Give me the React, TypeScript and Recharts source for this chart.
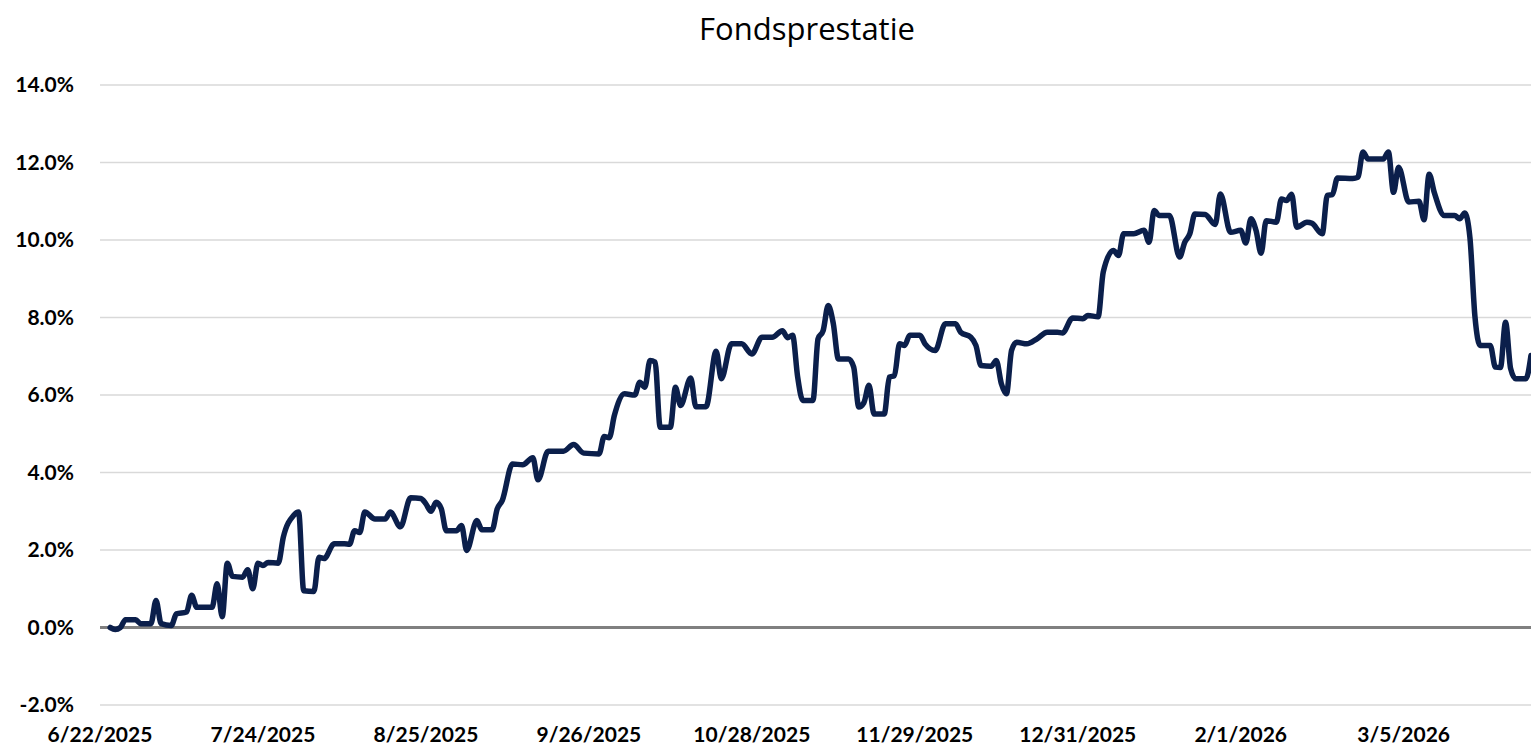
import { LineChart, Line, XAxis, YAxis, CartesianGrid, ReferenceLine } from 'recharts';

const START = Date.UTC(2025, 5, 22);
const DAY = 86400000;
const LAST_DAY = 281;

// dagen sinds 6/22/2025
const dayOffset = [
  2, 3, 4, 5, 7, 8, 10, 11, 12, 14, 15, 17, 18, 19, 22, 23, 24, 25, 26, 28, 29, 30, 31, 32, 33, 35, 36, 38, 39, 40, 42, 43, 44, 46, 48,
  49, 50, 51, 52, 54, 56, 57, 59, 61, 63, 64, 65, 66, 67, 68, 70, 71, 72, 74, 75, 77, 78, 79, 81, 83, 85, 86, 88, 91, 93, 95,
  98, 99, 100, 101, 103, 105, 106, 107, 108, 109, 110, 112, 113, 114, 116, 117, 119, 121, 122, 124, 126, 128, 130, 132, 134, 135, 136, 137, 138, 140,
  141, 142, 143, 144, 145, 147, 148, 149, 150, 151, 152, 154, 155, 156, 157, 158, 159, 161, 162, 164, 166, 168, 169, 171, 172, 173, 175, 176, 177, 178, 179, 180, 182, 184, 186, 188,
  189, 191, 193, 194, 196, 197, 199, 200, 201, 203, 205, 206, 207, 208, 210, 212, 213, 214, 215, 217, 219, 220, 222, 224, 225, 226, 227, 228, 229, 231, 232, 233, 234, 235,
  237, 238, 240, 241, 242, 243, 246, 247, 248, 249, 252, 253, 254, 255, 257, 259, 260, 261, 262, 264, 266, 267, 268, 269, 270, 271, 273, 274, 275, 276, 277, 278, 280, 281,
];

// rendement in %
const fundReturn = [
  0.0, -0.05, 0.0, 0.2, 0.2, 0.1, 0.1, 0.7, 0.1, 0.05, 0.35, 0.4, 0.83, 0.52, 0.52, 1.13, 0.28, 1.66, 1.32, 1.3, 1.49, 1.0, 1.66, 1.6, 1.68, 1.66, 2.33, 2.89, 2.98, 0.95, 0.93, 1.81, 1.78, 2.16, 2.16,
  2.15, 2.5, 2.45, 2.98, 2.8, 2.8, 2.98, 2.6, 3.35, 3.33, 3.19, 3.0, 3.23, 3.07, 2.5, 2.5, 2.63, 1.99, 2.76, 2.52, 2.52, 3.06, 3.28, 4.22, 4.2, 4.38, 3.81, 4.55, 4.55, 4.72, 4.5,
  4.48, 4.93, 4.9, 5.47, 6.03, 6.0, 6.33, 6.2, 6.89, 6.85, 5.17, 5.17, 6.2, 5.73, 6.44, 5.7, 5.7, 7.13, 6.42, 7.32, 7.32, 7.06, 7.49, 7.49, 7.66, 7.48, 7.54, 6.46, 5.86, 5.86,
  7.45, 7.66, 8.31, 7.84, 6.93, 6.93, 6.72, 5.69, 5.8, 6.25, 5.51, 5.51, 6.46, 6.5, 7.32, 7.28, 7.54, 7.54, 7.32, 7.15, 7.84, 7.84, 7.62, 7.49, 7.28, 6.76, 6.74, 6.89, 6.29, 6.03, 7.15, 7.36, 7.32, 7.45, 7.62, 7.62,
  7.6, 7.99, 7.97, 8.05, 8.02, 9.17, 9.73, 9.6, 10.16, 10.16, 10.25, 9.94, 10.76, 10.63, 10.63, 9.56, 9.94, 10.16, 10.67, 10.66, 10.4, 11.19, 10.2, 10.25, 9.92, 10.55, 10.25, 9.66, 10.5, 10.46, 11.06, 11.02, 11.18, 10.33,
  10.46, 10.43, 10.16, 11.15, 11.17, 11.6, 11.59, 11.62, 12.27, 12.09, 12.09, 12.27, 11.23, 11.88, 10.98, 11.0, 10.52, 11.7, 11.23, 10.63, 10.63, 10.55, 10.7, 10.07, 8.01, 7.28, 7.28, 6.72, 6.71, 7.88, 6.68, 6.42, 6.42, 7.02,
];

const tickLabels = ['6/22/2025', '7/24/2025', '8/25/2025', '9/26/2025', '10/28/2025', '11/29/2025', '12/31/2025', '2/1/2026', '3/5/2026'];
const yTicks = [-2, 0, 2, 4, 6, 8, 10, 12, 14];

const parseDate = (s: string) => {
  const [m, d, y] = s.split('/').map(Number);
  return Date.UTC(y, m - 1, d);
};

const fmtDate = (t: number) => {
  const d = new Date(t);
  return `${d.getUTCMonth() + 1}/${d.getUTCDate()}/${d.getUTCFullYear()}`;
};

const data = dayOffset.map((d, i) => ({ date: START + d * DAY, value: fundReturn[i] }));
const xTicks = tickLabels.map(parseDate);

const FONT = 'Lato, "Open Sans", sans-serif';

export default function App() {
  return (
    <div style={{ position: 'relative', width: 1531, height: 747, background: '#fff', overflow: 'hidden' }}>
      <style>{'body{margin:0;background:#fff}'}</style>
      <svg width={1531} height={60} style={{ position: 'absolute', left: 0, top: 0 }}>
        <text x={807} y={40} textAnchor="middle" fontFamily='"Open Sans", sans-serif' fontSize={31} fill="#000">
          Fondsprestatie
        </text>
      </svg>
      <LineChart width={1531} height={747} data={data} margin={{ top: 85, right: 0, bottom: 0, left: 0 }}>
        <CartesianGrid vertical={false} stroke="#d9d9d9" strokeWidth={1.5} />
        <XAxis
          dataKey="date"
          type="number"
          domain={[START, START + LAST_DAY * DAY]}
          ticks={xTicks}
          tickFormatter={fmtDate}
          axisLine={false}
          tickLine={false}
          tickSize={0}
          tickMargin={22}
          height={42}
          interval={0}
          tick={{ fill: '#000', fontSize: 21, fontWeight: 700, fontFamily: FONT }}
        />
        <YAxis
          type="number"
          domain={[-2, 14]}
          ticks={yTicks}
          tickFormatter={(v: number) => `${v.toFixed(1)}%`}
          axisLine={false}
          tickLine={false}
          tickSize={0}
          tickMargin={26}
          width={100}
          interval={0}
          tick={{ fill: '#000', fontSize: 21, fontWeight: 700, fontFamily: FONT }}
        />
        <ReferenceLine y={0} stroke="#808080" strokeWidth={3} />
        <Line
          type="monotone"
          dataKey="value"
          stroke="#0b1f4b"
          strokeWidth={5.5}
          dot={false}
          strokeLinejoin="round"
          strokeLinecap="round"
          isAnimationActive={false}
        />
      </LineChart>
    </div>
  );
}
